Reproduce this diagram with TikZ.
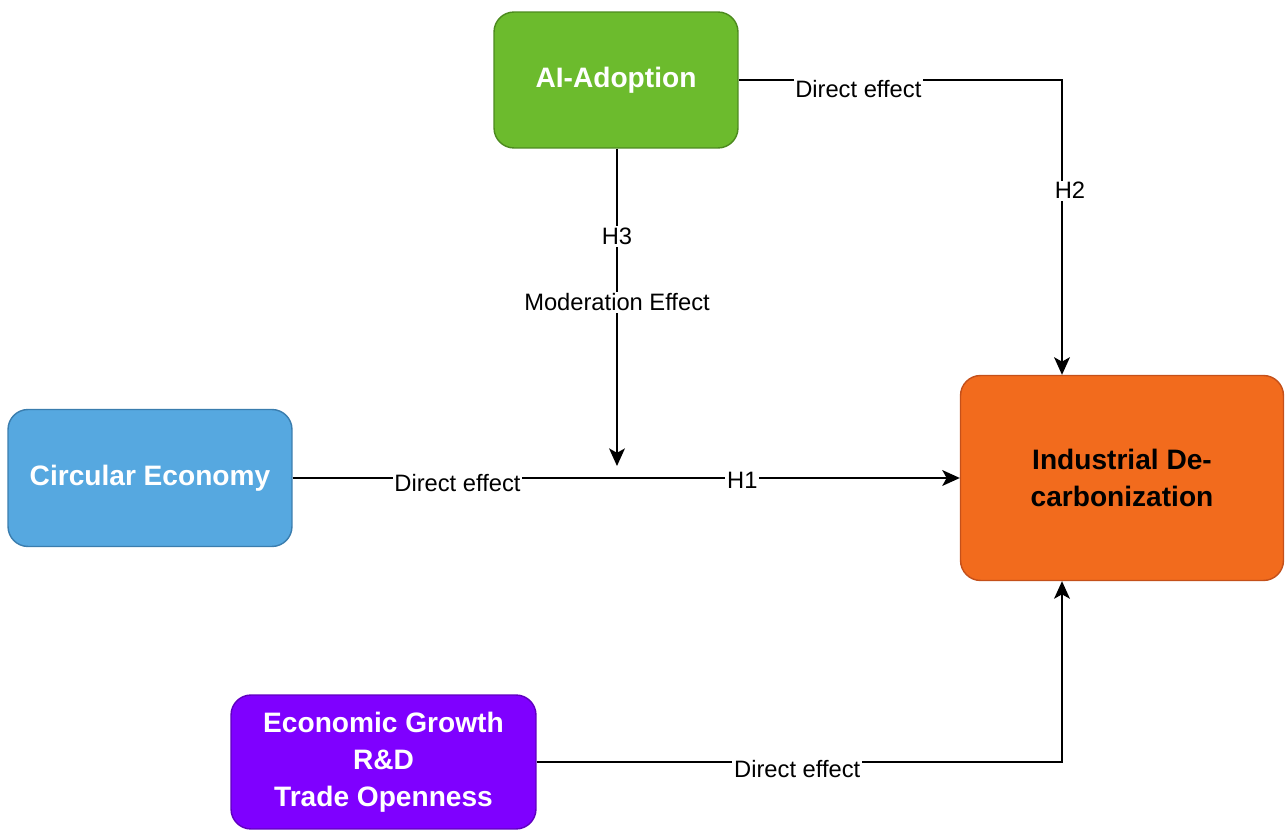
\documentclass[tikz,border=0pt]{standalone}
\usepackage{fontspec}
\setmainfont{Liberation Sans}
\usetikzlibrary{arrows.meta}
\definecolor{aigreen}{HTML}{6CBB2D}
\definecolor{aigreenb}{HTML}{4C8A1E}
\definecolor{ceblue}{HTML}{56A8E0}
\definecolor{cebleb}{HTML}{3A7DAE}
\definecolor{idorange}{HTML}{F26B1D}
\definecolor{idorangeb}{HTML}{C4501A}
\definecolor{egpurple}{HTML}{7F00FF}
\definecolor{egpurpleb}{HTML}{6000C0}
\tikzset{
  box/.style={rounded corners=0.4cm, line width=0.8pt, align=center,
    font=\bfseries\fontsize{16}{21}\selectfont, inner sep=2pt},
  arr/.style={line width=1.1pt, -{Stealth[length=10pt,width=9pt,inset=2.5pt]}},
  lbl/.style={fill=white, inner sep=1pt, font=\fontsize{13.5}{16}\selectfont, text=black},
}
\begin{document}
\begin{tikzpicture}[x=0.02cm,y=-0.02cm]
\useasboundingbox (0,0) rectangle (1285,830);
\node[box, fill=aigreen, draw=aigreenb, text=white, minimum width=4.88cm, minimum height=2.72cm] (ai) at (616,80) {\raisebox{-2pt}{AI-Adoption}};
\node[box, fill=ceblue, draw=cebleb, text=white, minimum width=5.68cm, minimum height=2.74cm] (ce) at (150,478) {\raisebox{-3pt}{Circular Economy}};
\node[box, fill=idorange, draw=idorangeb, text=black, minimum width=6.46cm, minimum height=4.1cm] (id) at (1122,478) {Industrial De-\\carbonization};
\node[box, fill=egpurple, draw=egpurpleb, text=white, minimum width=6.1cm, minimum height=2.68cm] (eg) at (383.5,762) {Economic Growth\\R\&D\\Trade Openness};
\coordinate (h2x) at (1062,0);
\coordinate (mod) at (617,466);
\draw[arr] (ce.east) -- node[lbl, pos=0.247, yshift=-0.1cm] {Direct effect}
  node[lbl, pos=0.674, yshift=-0.04cm] {H1} (id.west);
\draw[arr] (ai.south -| mod) -- node[lbl, pos=0.277] {H3}
  node[lbl, pos=0.484] {Moderation Effect} (mod);
\draw[arr] (ai.east) -| node[lbl, pos=0.185, yshift=-0.18cm] {Direct effect}
  node[lbl, pos=0.6875, xshift=0.16cm] {H2} (id.north -| h2x);
\draw[arr] (eg.east) -| node[lbl, pos=0.248, yshift=-0.14cm] {Direct effect} (id.south -| h2x);
\end{tikzpicture}
\end{document}
